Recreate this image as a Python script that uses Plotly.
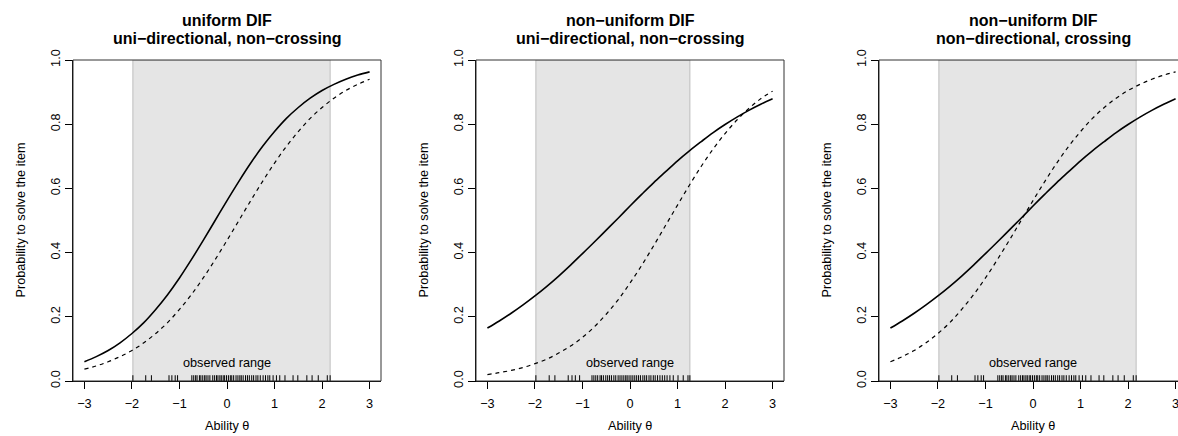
import plotly.graph_objects as go

# ---------------- data ----------------
theta = [-3.0, -2.75, -2.5, -2.25, -2.0, -1.75, -1.5, -1.25, -1.0, -0.75, -0.5, -0.25,
         0.0, 0.25, 0.5, 0.75, 1.0, 1.25, 1.5, 1.75, 2.0, 2.25, 2.5, 2.75, 3.0]

# panel 1: uniform DIF
p1_solid = [0.060, 0.076, 0.095, 0.119, 0.148, 0.182, 0.223, 0.269, 0.321, 0.378, 0.438, 0.500,
            0.562, 0.622, 0.679, 0.731, 0.777, 0.818, 0.852, 0.881, 0.905, 0.924, 0.940, 0.953, 0.963]
p1_dashed = [0.037, 0.047, 0.060, 0.076, 0.095, 0.119, 0.148, 0.182, 0.223, 0.269, 0.321, 0.378,
             0.438, 0.500, 0.562, 0.622, 0.679, 0.731, 0.777, 0.818, 0.852, 0.881, 0.905, 0.924, 0.940]
# panel 2: non-uniform, uni-directional
p2_solid = [0.165, 0.187, 0.211, 0.237, 0.265, 0.295, 0.327, 0.361, 0.397, 0.433, 0.470, 0.507,
            0.545, 0.582, 0.618, 0.652, 0.686, 0.717, 0.746, 0.774, 0.799, 0.822, 0.843, 0.862, 0.879]
p2_dashed = [0.020, 0.026, 0.033, 0.042, 0.054, 0.068, 0.087, 0.109, 0.136, 0.169, 0.208, 0.253,
             0.305, 0.361, 0.422, 0.485, 0.548, 0.610, 0.669, 0.723, 0.771, 0.813, 0.849, 0.879, 0.903]
# panel 3: non-uniform, crossing
p3_solid = [0.165, 0.187, 0.211, 0.237, 0.265, 0.295, 0.327, 0.361, 0.397, 0.433, 0.470, 0.507,
            0.545, 0.582, 0.618, 0.652, 0.686, 0.717, 0.746, 0.774, 0.799, 0.822, 0.843, 0.862, 0.879]
p3_dashed = [0.060, 0.076, 0.095, 0.119, 0.148, 0.182, 0.223, 0.269, 0.321, 0.378, 0.438, 0.500,
             0.562, 0.622, 0.679, 0.731, 0.777, 0.818, 0.852, 0.881, 0.905, 0.924, 0.940, 0.953, 0.963]

# observed abilities (rug)
rug_a = [-1.98, -1.71, -1.59, -1.22, -1.16, -1.09, -1.04,
         -0.74, -0.70, -0.66, -0.63, -0.58, -0.55, -0.51, -0.47, -0.44, -0.40, -0.36, -0.30,
         -0.26, -0.22, -0.19, -0.15, -0.12, -0.08, -0.05, -0.01, 0.03, 0.07, 0.10, 0.14,
         0.19, 0.23, 0.27, 0.30, 0.34, 0.39, 0.43, 0.47, 0.52, 0.56, 0.61, 0.65, 0.70,
         0.76, 0.81, 0.86, 0.90, 0.97, 1.04, 1.11,
         1.22, 1.39, 1.49, 1.68, 1.79, 1.92, 2.11, 2.17]
rug_b = [-1.98, -1.70, -1.58, -1.30, -1.22, -1.15, -1.06,
         -0.80, -0.76, -0.72, -0.68, -0.63, -0.60, -0.56, -0.51, -0.47, -0.43, -0.39, -0.34,
         -0.30, -0.25, -0.21, -0.17, -0.13, -0.09, -0.06, -0.02, 0.02, 0.06, 0.10, 0.14,
         0.18, 0.22, 0.27, 0.31, 0.35, 0.40, 0.44, 0.49, 0.53, 0.58, 0.63, 0.68, 0.73,
         0.78, 0.84, 0.91, 1.01, 1.12, 1.22, 1.26]

titles_top = ["uniform DIF", "non\u2212uniform DIF", "non\u2212uniform DIF"]
titles_bottom = ["uni\u2212directional, non\u2212crossing", "uni\u2212directional, non\u2212crossing",
                 "non\u2212directional, crossing"]
x_ticks = [-3, -2, -1, 0, 1, 2, 3]
y_ticks = [0.0, 0.2, 0.4, 0.6, 0.8, 1.0]
x_title = "Ability \u03b8"
y_title = "Probability to solve the item"
shade_label = "observed range"

panels = [
    dict(solid=p1_solid, dashed=p1_dashed, rug=rug_a),
    dict(solid=p2_solid, dashed=p2_dashed, rug=rug_b),
    dict(solid=p3_solid, dashed=p3_dashed, rug=rug_a),
]

# ---------------- layout geometry (pixels) ----------------
W, H = 1178, 436
FONT = "Liberation Sans, Arial, Helvetica, sans-serif"
px_left = [73, 476, 879]
px_right = [381, 784, 1178]
unit = 47.53
top_px, bot_px = 60, 381

fig = go.Figure()
shapes, annotations = [], []

for i, p in enumerate(panels):
    n = "" if i == 0 else str(i + 1)
    xa, ya = "x" + n, "y" + n
    xr = [-3.24, -3.24 + (px_right[i] - px_left[i]) / unit]
    dom_x = [px_left[i] / W, px_right[i] / W]
    dom_y = [1 - bot_px / H, 1 - top_px / H]
    ax = dict(domain=dom_x, range=xr, tickmode="array", tickvals=x_ticks,
              ticks="outside", ticklen=7, tickwidth=1, tickcolor="black", automargin=False,
              ticklabelstandoff=4, ticklabeloverflow="allow",
              showline=True, linecolor="black", linewidth=1, showgrid=False, zeroline=False,
              tickfont=dict(family=FONT, size=12.7, color="black"), anchor=ya, fixedrange=True)
    ay = dict(domain=dom_y, range=[0, 1], tickmode="array", tickvals=y_ticks, tickformat=".1f",
              ticks="outside", ticklen=7, tickwidth=1, tickcolor="black", tickangle=-90,
              automargin=False,
              showline=True, linecolor="black", linewidth=1, showgrid=False, zeroline=False,
              tickfont=dict(family=FONT, size=12.7, color="black"), anchor=xa, fixedrange=True)
    fig.update_layout(**{"xaxis" + n: ax, "yaxis" + n: ay})

    lo, hi = min(p["rug"]), max(p["rug"])
    shapes.append(dict(type="rect", xref=xa, yref=ya, x0=lo, x1=hi, y0=0, y1=1,
                       fillcolor="#e5e5e5", line=dict(color="#bebebe", width=1), layer="below"))
    shapes.append(dict(type="rect", xref=xa + " domain", yref=ya + " domain",
                       x0=0, x1=1 if i < 2 else 1.05, y0=0, y1=1,
                       line=dict(color="#333333", width=1), layer="above"))

    fig.add_trace(go.Scatter(x=theta, y=p["solid"], mode="lines", line_shape="spline",
                             line=dict(color="black", width=1.6), xaxis=xa, yaxis=ya,
                             showlegend=False, hoverinfo="skip"))
    fig.add_trace(go.Scatter(x=theta, y=p["dashed"], mode="lines", line_shape="spline",
                             line=dict(color="black", width=1.2, dash="4px,4px"), xaxis=xa, yaxis=ya,
                             showlegend=False, hoverinfo="skip"))
    rx, ry = [], []
    for v in p["rug"]:
        rx += [v, v, None]
        ry += [0, 0.018, None]
    fig.add_trace(go.Scatter(x=rx, y=ry, mode="lines", line=dict(color="black", width=1),
                             xaxis=xa, yaxis=ya, showlegend=False, hoverinfo="skip"))

    annotations.append(dict(text=shade_label, xref=xa, yref=ya, x=0, y=0.057, showarrow=False,
                            font=dict(family=FONT, size=12.7, color="black"),
                            xanchor="center", yanchor="middle"))
    cx = (px_left[i] + px_right[i]) / 2 / W if i < 2 else (879 + 1187) / 2 / W
    annotations.append(dict(text="<b>" + titles_top[i] + "</b>", xref="paper", yref="paper",
                            x=cx, y=1 - 21 / H, showarrow=False,
                            font=dict(family=FONT, size=16, color="black"),
                            xanchor="center", yanchor="middle"))
    annotations.append(dict(text="<b>" + titles_bottom[i] + "</b>", xref="paper", yref="paper",
                            x=cx, y=1 - 39 / H, showarrow=False,
                            font=dict(family=FONT, size=16, color="black"),
                            xanchor="center", yanchor="middle"))
    annotations.append(dict(text=x_title, xref="paper", yref="paper",
                            x=cx, y=1 - 426 / H, showarrow=False,
                            font=dict(family=FONT, size=12.7, color="black"),
                            xanchor="center", yanchor="middle"))
    annotations.append(dict(text=y_title, xref="paper", yref="paper",
                            x=(px_left[i] - 53) / W, y=1 - (top_px + bot_px) / 2 / H, showarrow=False,
                            textangle=-90, font=dict(family=FONT, size=12.7, color="black"),
                            xanchor="center", yanchor="middle"))

fig.update_layout(width=W, height=H, autosize=False, margin=dict(l=0, r=0, t=0, b=0, pad=0),
                  paper_bgcolor="white", plot_bgcolor="white",
                  shapes=shapes, annotations=annotations)

fig.write_html("out.html", include_plotlyjs=True, full_html=True,
               config=dict(displayModeBar=False, responsive=False))
